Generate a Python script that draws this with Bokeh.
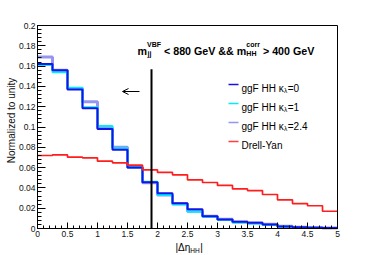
import numpy as np
from bokeh.plotting import figure
from bokeh.models import Range1d, FixedTicker, Label, Arrow, OpenHead, BoxAnnotation
from bokeh.embed import file_html
from bokeh.resources import INLINE

# ---------------- data ----------------
bin_edges = [0.0, 0.25, 0.5, 0.75, 1.0, 1.25, 1.5, 1.75, 2.0, 2.25, 2.5,
             2.75, 3.0, 3.25, 3.5, 3.75, 4.0, 4.25, 4.5, 4.75, 5.0]

ggf_kl0 = [0.162, 0.156, 0.137, 0.1185, 0.098, 0.0775, 0.060, 0.0456, 0.0348, 0.025,
           0.019, 0.012, 0.0089, 0.0066, 0.0056, 0.004, 0.002, 0.0012, 0.0008, 0.0005]
ggf_kl1 = [0.161, 0.154, 0.1386, 0.1195, 0.101, 0.079, 0.061, 0.046, 0.033, 0.0237,
           0.0164, 0.0115, 0.0085, 0.006, 0.005, 0.0035, 0.0018, 0.001, 0.0007, 0.0004]
ggf_kl24 = [0.169, 0.156, 0.138, 0.125, 0.099, 0.080, 0.060, 0.045, 0.033, 0.0245,
            0.017, 0.012, 0.009, 0.0065, 0.0055, 0.0042, 0.0022, 0.0013, 0.0009, 0.0006]
drell_yan = [0.0719, 0.0726, 0.0703, 0.0696, 0.0663, 0.0647, 0.0624, 0.0578, 0.0552, 0.0529,
             0.048, 0.0453, 0.0424, 0.039, 0.0374, 0.0335, 0.0283, 0.0246, 0.0224, 0.017]

cut_value = 1.9
cut_line_top = 0.157

x_ticks = [0.0, 0.5, 1.0, 1.5, 2.0, 2.5, 3.0, 3.5, 4.0, 4.5, 5.0]
x_tick_labels = ["0", "0.5", "1", "1.5", "2", "2.5", "3", "3.5", "4", "4.5", "5"]
y_ticks = [0.0, 0.02, 0.04, 0.06, 0.08, 0.1, 0.12, 0.14, 0.16, 0.18, 0.2]
y_tick_labels = ["0", "0.02", "0.04", "0.06", "0.08", "0.1", "0.12", "0.14", "0.16", "0.18", "0.2"]

legend_labels = [("ggF HH \u03ba", "\u03bb", "=0"), ("ggF HH \u03ba", "\u03bb", "=1"),
                 ("ggF HH \u03ba", "\u03bb", "=2.4"), ("Drell-Yan", "", "")]

# ---------------- styling ----------------
FONT = "Liberation Sans"
col_kl0 = "#1414e6"
col_kl1 = "#00ecff"
col_kl24 = "#8484ee"
col_dy = "#ff1e1e"

W, H = 374, 255
X0, X1 = 0.0, 5.0
Y0, Y1 = 0.0, 0.2
# plot box in canvas pixels
FL, FR, FT, FB = 37, 337, 25, 228


def dx(px):
    return X0 + (px - FL) / (FR - FL) * (X1 - X0)


def dy(py):
    return Y0 + (FB - py) / (FB - FT) * (Y1 - Y0)


REG = {' ': 278, '|': 260, '\u0394': 668, '\u03b7': 556, 'H': 722, 'g': 556, 'F': 611,
       '\u03ba': 500, '\u03bb': 500, '=': 584, '0': 556, '1': 556, '2': 556, '4': 556,
       '.': 278, 'D': 722, 'r': 333, 'e': 556, 'l': 222, '-': 333, 'Y': 667, 'a': 556, 'n': 556}
BOLD = {'m': 889, 'V': 667, 'B': 722, 'F': 611, 'j': 278, ' ': 278, '<': 584, '>': 584,
        '8': 556, '0': 556, '4': 556, 'G': 778, 'e': 556, '&': 722, 'c': 556, 'o': 611,
        'r': 389, 'H': 722}


def tw(text, size, bold=False):
    tab = BOLD if bold else REG
    return sum(tab.get(ch, 556) for ch in text) / 1000.0 * size


# the frame covers the whole canvas; axes are pinned at x=0 / y=0
p = figure(width=W, height=H, x_range=Range1d(dx(0), dx(W)), y_range=Range1d(dy(H), dy(0)),
           output_backend="svg", toolbar_location=None,
           min_border_left=0, min_border_right=0, min_border_top=0, min_border_bottom=0)
p.grid.visible = False
p.outline_line_color = None
p.background_fill_color = "white"
p.border_fill_color = "white"

x_minor = [round(0.1 * i, 2) for i in range(51)]
y_minor = [round(0.004 * i, 3) for i in range(51)]
p.xaxis.ticker = FixedTicker(ticks=x_ticks, minor_ticks=x_minor)
p.yaxis.ticker = FixedTicker(ticks=y_ticks, minor_ticks=y_minor)
p.xaxis.major_label_overrides = dict(zip(x_ticks, x_tick_labels))
p.yaxis.major_label_overrides = dict(zip(y_ticks, y_tick_labels))
p.xaxis.fixed_location = Y0
p.yaxis.fixed_location = X0
p.xaxis.bounds = (X0, X1)
p.yaxis.bounds = (Y0, Y1)

for ax, maj, mnr in [(p.xaxis, 6, 3), (p.yaxis, 8, 4)]:
    ax.major_tick_in = maj
    ax.major_tick_out = 0
    ax.minor_tick_in = mnr
    ax.minor_tick_out = 0
    ax.axis_line_color = "black"
    ax.major_tick_line_color = "black"
    ax.minor_tick_line_color = "black"
    ax.major_label_text_font = FONT
    ax.major_label_text_font_size = "8.5px"
    ax.major_label_text_color = "#111111"
    ax.major_label_standoff = 2
    ax.axis_label = None

# plot box outline
p.add_layout(BoxAnnotation(left=X0, right=X1, bottom=Y0, top=Y1, fill_alpha=0,
                           line_color="black", line_width=1, line_alpha=1))

# ---------------- histograms ----------------
def step_y(vals):
    return list(vals) + [vals[-1]]

p.step(x=bin_edges, y=step_y(ggf_kl24), mode="after", line_color=col_kl24, line_width=3, line_alpha=0.85)
p.step(x=bin_edges, y=step_y(ggf_kl1), mode="after", line_color=col_kl1, line_width=2)
p.step(x=bin_edges, y=step_y(ggf_kl0), mode="after", line_color=col_kl0, line_width=2)
p.step(x=bin_edges, y=step_y(drell_yan), mode="after", line_color=col_dy, line_width=1.7)

# cut line and arrow
p.segment(x0=[cut_value], y0=[0.0], x1=[cut_value], y1=[cut_line_top], line_color="black", line_width=2)
p.add_layout(Arrow(end=OpenHead(size=6, line_width=1, line_color="black"),
                   x_start=dx(139), y_start=dy(91), x_end=dx(122), y_end=dy(91),
                   line_color="black", line_width=1))

# ---------------- text helpers ----------------
def lab(x_px, base_px, text, size, bold=False, color="black"):
    p.add_layout(Label(x=dx(x_px), y=dy(base_px), text=text, text_font=FONT,
                       text_font_size=f"{size}px", text_font_style="bold" if bold else "normal",
                       text_color=color, text_align="left", text_baseline="alphabetic"))

# ---------------- title text ----------------
TS, SS = 10.7, 7
base = 50
x = 137
lab(x, base, "m", TS, True)
x += tw("m", TS, True)
lab(x, base - 6.5, "VBF", SS, True)
lab(x + 0.5, base + 2.5, "jj", SS, True)
x += max(tw("VBF", SS, True), tw("jj", SS, True)) + tw(" ", TS, True)
t = "< 880 GeV && m"
lab(x, base, t, TS, True)
x += tw(t, TS, True)
lab(x, base - 6.5, "corr", SS, True)
lab(x, base + 2.5, "HH", SS, True)
x += max(tw("corr", SS, True), tw("HH", SS, True)) + tw(" ", TS, True)
lab(x, base, "> 400 GeV", TS, True)

# ---------------- legend ----------------
LS, LSS = 10, 6.5
row0, row_gap = 84, 19
key_x0, key_x1, text_x = 228, 238, 241
colors = [col_kl0, col_kl1, col_kl24, col_dy]
alphas = [1.0, 1.0, 0.85, 0.85]
for i, ((t1, sub, t2), c, a) in enumerate(zip(legend_labels, colors, alphas)):
    yc = row0 + row_gap * i
    p.segment(x0=[dx(key_x0)], y0=[dy(yc)], x1=[dx(key_x1)], y1=[dy(yc)],
              line_color=c, line_width=1.5, line_alpha=a)
    bl = yc + 3.6
    lab(text_x, bl, t1, LS)
    if sub:
        xs = text_x + tw(t1, LS) + 0.3
        lab(xs, bl + 2.5, sub, LSS)
        lab(xs + tw(sub, LSS) + 0.5, bl, t2, LS)

# ---------------- axis titles ----------------
p.add_layout(Label(x=dx(10.5), y=dy(120), text="Normalized to unity", angle=np.pi / 2,
                   text_font=FONT, text_font_size="10px", text_color="#111111",
                   text_align="center", text_baseline="alphabetic"))
xl = 175
lab(xl, 247, "|\u0394\u03b7", 10)
xl += tw("|\u0394\u03b7", 10)
lab(xl, 250, "HH", 6.5)
xl += tw("HH", 6.5) + 0.5
lab(xl, 247, "|", 10)

open("out.html", "w").write(file_html(p, INLINE))
